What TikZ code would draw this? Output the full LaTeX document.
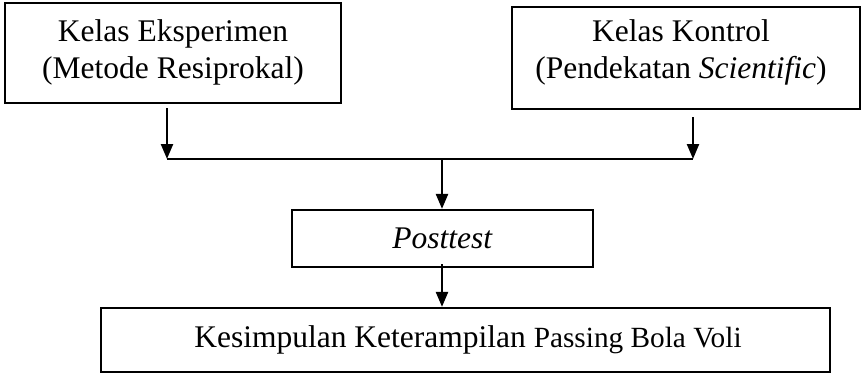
\documentclass[tikz,border=0pt]{standalone}
\usepackage{fontspec}
\setmainfont{Liberation Serif}
\usetikzlibrary{arrows.meta}
\begin{document}
\begin{tikzpicture}[x=1pt,y=-1pt,
  box/.style={draw=black, line width=2.2pt, rectangle, inner sep=0pt, fill=white},
  txt/.style={align=center, inner sep=0pt, font=\fontsize{31.5}{37}\selectfont},
  arr/.style={line width=2.3pt, -{Triangle[length=15pt,width=12pt]}},
  ln/.style={line width=2.3pt}]
\useasboundingbox (0,0) rectangle (862,375);
% boxes
\node[box, minimum width=336pt, minimum height=100pt] (A) at (173,53) {};
\node[txt] (At) at (173,52) {Kelas Eksperimen\\(Metode Resiprokal)};
\node[box, minimum width=348pt, minimum height=102pt] (B) at (686,58) {};
\node[txt] (Bt) at (681,52) {Kelas Kontrol\\(Pendekatan \textit{Scientific})};
\node[box, minimum width=301pt, minimum height=57pt, txt] (P) at (442.5,238.5) {\textit{Posttest}};
\node[box, minimum width=729pt, minimum height=64pt] (K) at (465.5,340) {};
\node[txt] (Kt) at (468,340) {Kesimpulan Keterampilan {\fontsize{29.3}{35}\selectfont Passing Bola Voli}};
% junction coordinates
\coordinate (jA) at (167,159);
\coordinate (jB) at (693,159);
\coordinate (jM) at (442,159);
% connectors
\draw[arr] ([yshift=-4pt]A.south -| jA) -- (jA);
\draw[arr] ([yshift=-7pt]B.south -| jB) -- (jB);
\draw[ln] (jA) -- (jB);
\draw[arr] (jM) -- (jM |- P.north);
\draw[arr] ([yshift=4pt]P.south -| jM) -- (jM |- K.north);
\end{tikzpicture}
\end{document}
